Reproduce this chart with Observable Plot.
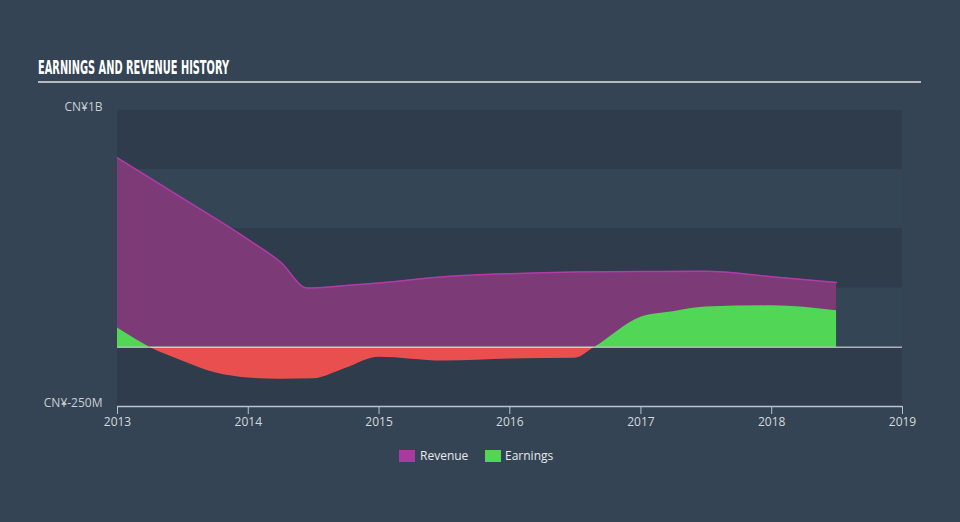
<!DOCTYPE html>
<html>
<head>
<meta charset="utf-8">
<script src="https://cdn.jsdelivr.net/npm/d3@7"></script>
<script src="https://cdn.jsdelivr.net/npm/@observablehq/plot@0.6"></script>
<style>
  html, body { margin: 0; padding: 0; }
  body { width: 960px; height: 522px; background: #344454; overflow: hidden; position: relative; font-family: "Open Sans", "DejaVu Sans", sans-serif; }
  #title { position: absolute; left: 38px; top: 55px; color: #ffffff; font-family: "Liberation Sans Narrow", "DejaVu Sans Condensed", sans-serif; font-weight: bold; font-size: 20px; line-height: 24px; white-space: nowrap; transform-origin: 0 0; letter-spacing: 0px; }
  #rule { position: absolute; left: 38px; top: 81px; width: 883px; height: 2px; background: #b4bac0; }
  #chart { position: absolute; left: 0; top: 90px; }
  .leg { position: absolute; top: 449px; font-size: 12px; color: #e6e9ec; line-height: 14px; }
  .sw { position: absolute; top: 450px; width: 16px; height: 12px; }
</style>
</head>
<body>
<div id="title">EARNINGS AND REVENUE HISTORY</div>
<div id="rule"></div>
<div id="chart"></div>
<div class="sw" style="left:399px;background:#a93a9f"></div>
<div class="leg" style="left:420px">Revenue</div>
<div class="sw" style="left:485px;background:#52d655"></div>
<div class="leg" style="left:505px">Earnings</div>
<script>
// Revenue (CN¥ millions)
const revenueDates = ["2013-01-01","2013-07-01","2014-01-01","2014-04-01","2014-06-15","2014-10-01","2015-01-01","2015-07-01","2016-01-01","2016-07-01","2017-01-01","2017-07-01","2018-01-01","2018-07-01"];
const revenueValues = [800, 630, 455, 360, 250, 261, 272, 298, 311, 318, 320, 321, 298, 274];

// Earnings (CN¥ millions)
const earningsDates = ["2013-01-01","2013-04-01","2013-07-01","2013-10-01","2014-01-01","2014-04-01","2014-07-01","2014-10-01","2015-01-01","2015-07-01","2016-01-01","2016-07-01","2016-08-25","2017-01-01","2017-04-01","2017-07-01","2018-01-01","2018-07-01"];
const earningsValues = [81, 0, -58, -108, -130, -135, -133, -88, -42, -58, -49, -46, 0, 127, 150, 170, 175, 154];

// Axis ticks / bands
const yTicks = [1000, -250];
const yTickLabels = ["CN¥1B", "CN¥-250M"];
const bandEdges = [1000, 750, 500, 250, 0, -250];
const xStart = "2013-01-01", xEnd = "2019-01-01";

const revenue = revenueDates.map((d, i) => ({date: new Date(d), value: revenueValues[i]}));
const earnings = earningsDates.map((d, i) => ({date: new Date(d), value: earningsValues[i]}));
const bands = bandEdges.slice(0, -1).map((top, i) => ({y1: bandEdges[i + 1], y2: top, dark: i % 2 === 0}));

const plot = Plot.plot({
  width: 960,
  height: 346,
  marginLeft: 117,
  marginRight: 58,
  marginTop: 20,
  marginBottom: 30,
  style: {background: "transparent", color: "#d3d9de", fontSize: "12px", fontFamily: "'Open Sans', 'DejaVu Sans', sans-serif"},
  x: {type: "utc", domain: [new Date(xStart), new Date(xEnd)]},
  y: {domain: [-250, 1000]},
  marks: [
    Plot.rect(bands, {x1: () => new Date(xStart), x2: () => new Date(xEnd), y1: "y1", y2: "y2", fill: d => d.dark ? "#2e3c4b" : "#344556"}),
    Plot.areaY(revenue, {x: "date", y: "value", fill: "#7c3a76", curve: "monotone-x"}),
    Plot.lineY(revenue, {x: "date", y: "value", stroke: "#b13ba8", strokeWidth: 1.5, curve: "monotone-x"}),
    Plot.areaY(earnings, {x: "date", y1: 0, y2: "value", fill: "url(#earnGrad)", curve: "monotone-x"}),
    Plot.ruleY([0], {stroke: "#ffffff", strokeOpacity: 0.6, strokeWidth: 1.5}),
    Plot.ruleY([-250], {stroke: "#b8c4d0", strokeWidth: 1.5}),
    Plot.axisX({ticks: d3.utcYear.every(1), tickFormat: "%Y", tickSize: 8, tickPadding: 3, stroke: "#b8c4d0", fill: "#d3d9de", label: null}),
    Plot.axisY({ticks: yTicks, tickFormat: d => yTickLabels[yTicks.indexOf(d)], tickSize: 0, tickPadding: 15, dy: -3, fill: "#c9cfd5", label: null})
  ]
});

// gradient splitting earnings at zero: green above, red below
const y = plot.scale("y");
const yTop = y.apply(1000), yZero = y.apply(0), yBot = y.apply(-250);
const off = (yZero - yTop) / (yBot - yTop);
const ns = "http://www.w3.org/2000/svg";
const defs = document.createElementNS(ns, "defs");
const grad = document.createElementNS(ns, "linearGradient");
grad.setAttribute("id", "earnGrad");
grad.setAttribute("gradientUnits", "userSpaceOnUse");
grad.setAttribute("x1", 0); grad.setAttribute("x2", 0);
grad.setAttribute("y1", yTop); grad.setAttribute("y2", yBot);
[[0, "#52d655"], [off, "#52d655"], [off, "#ea4f4f"], [1, "#ea4f4f"]].forEach(([o, c]) => {
  const s = document.createElementNS(ns, "stop");
  s.setAttribute("offset", o); s.setAttribute("stop-color", c);
  grad.appendChild(s);
});
defs.appendChild(grad);
plot.insertBefore(defs, plot.firstChild);
document.getElementById("chart").appendChild(plot);

// fit title to reference width
const t = document.getElementById("title");
const w = t.getBoundingClientRect().width;
t.style.transform = `scaleX(${191 / w})`;
</script>
</body>
</html>
